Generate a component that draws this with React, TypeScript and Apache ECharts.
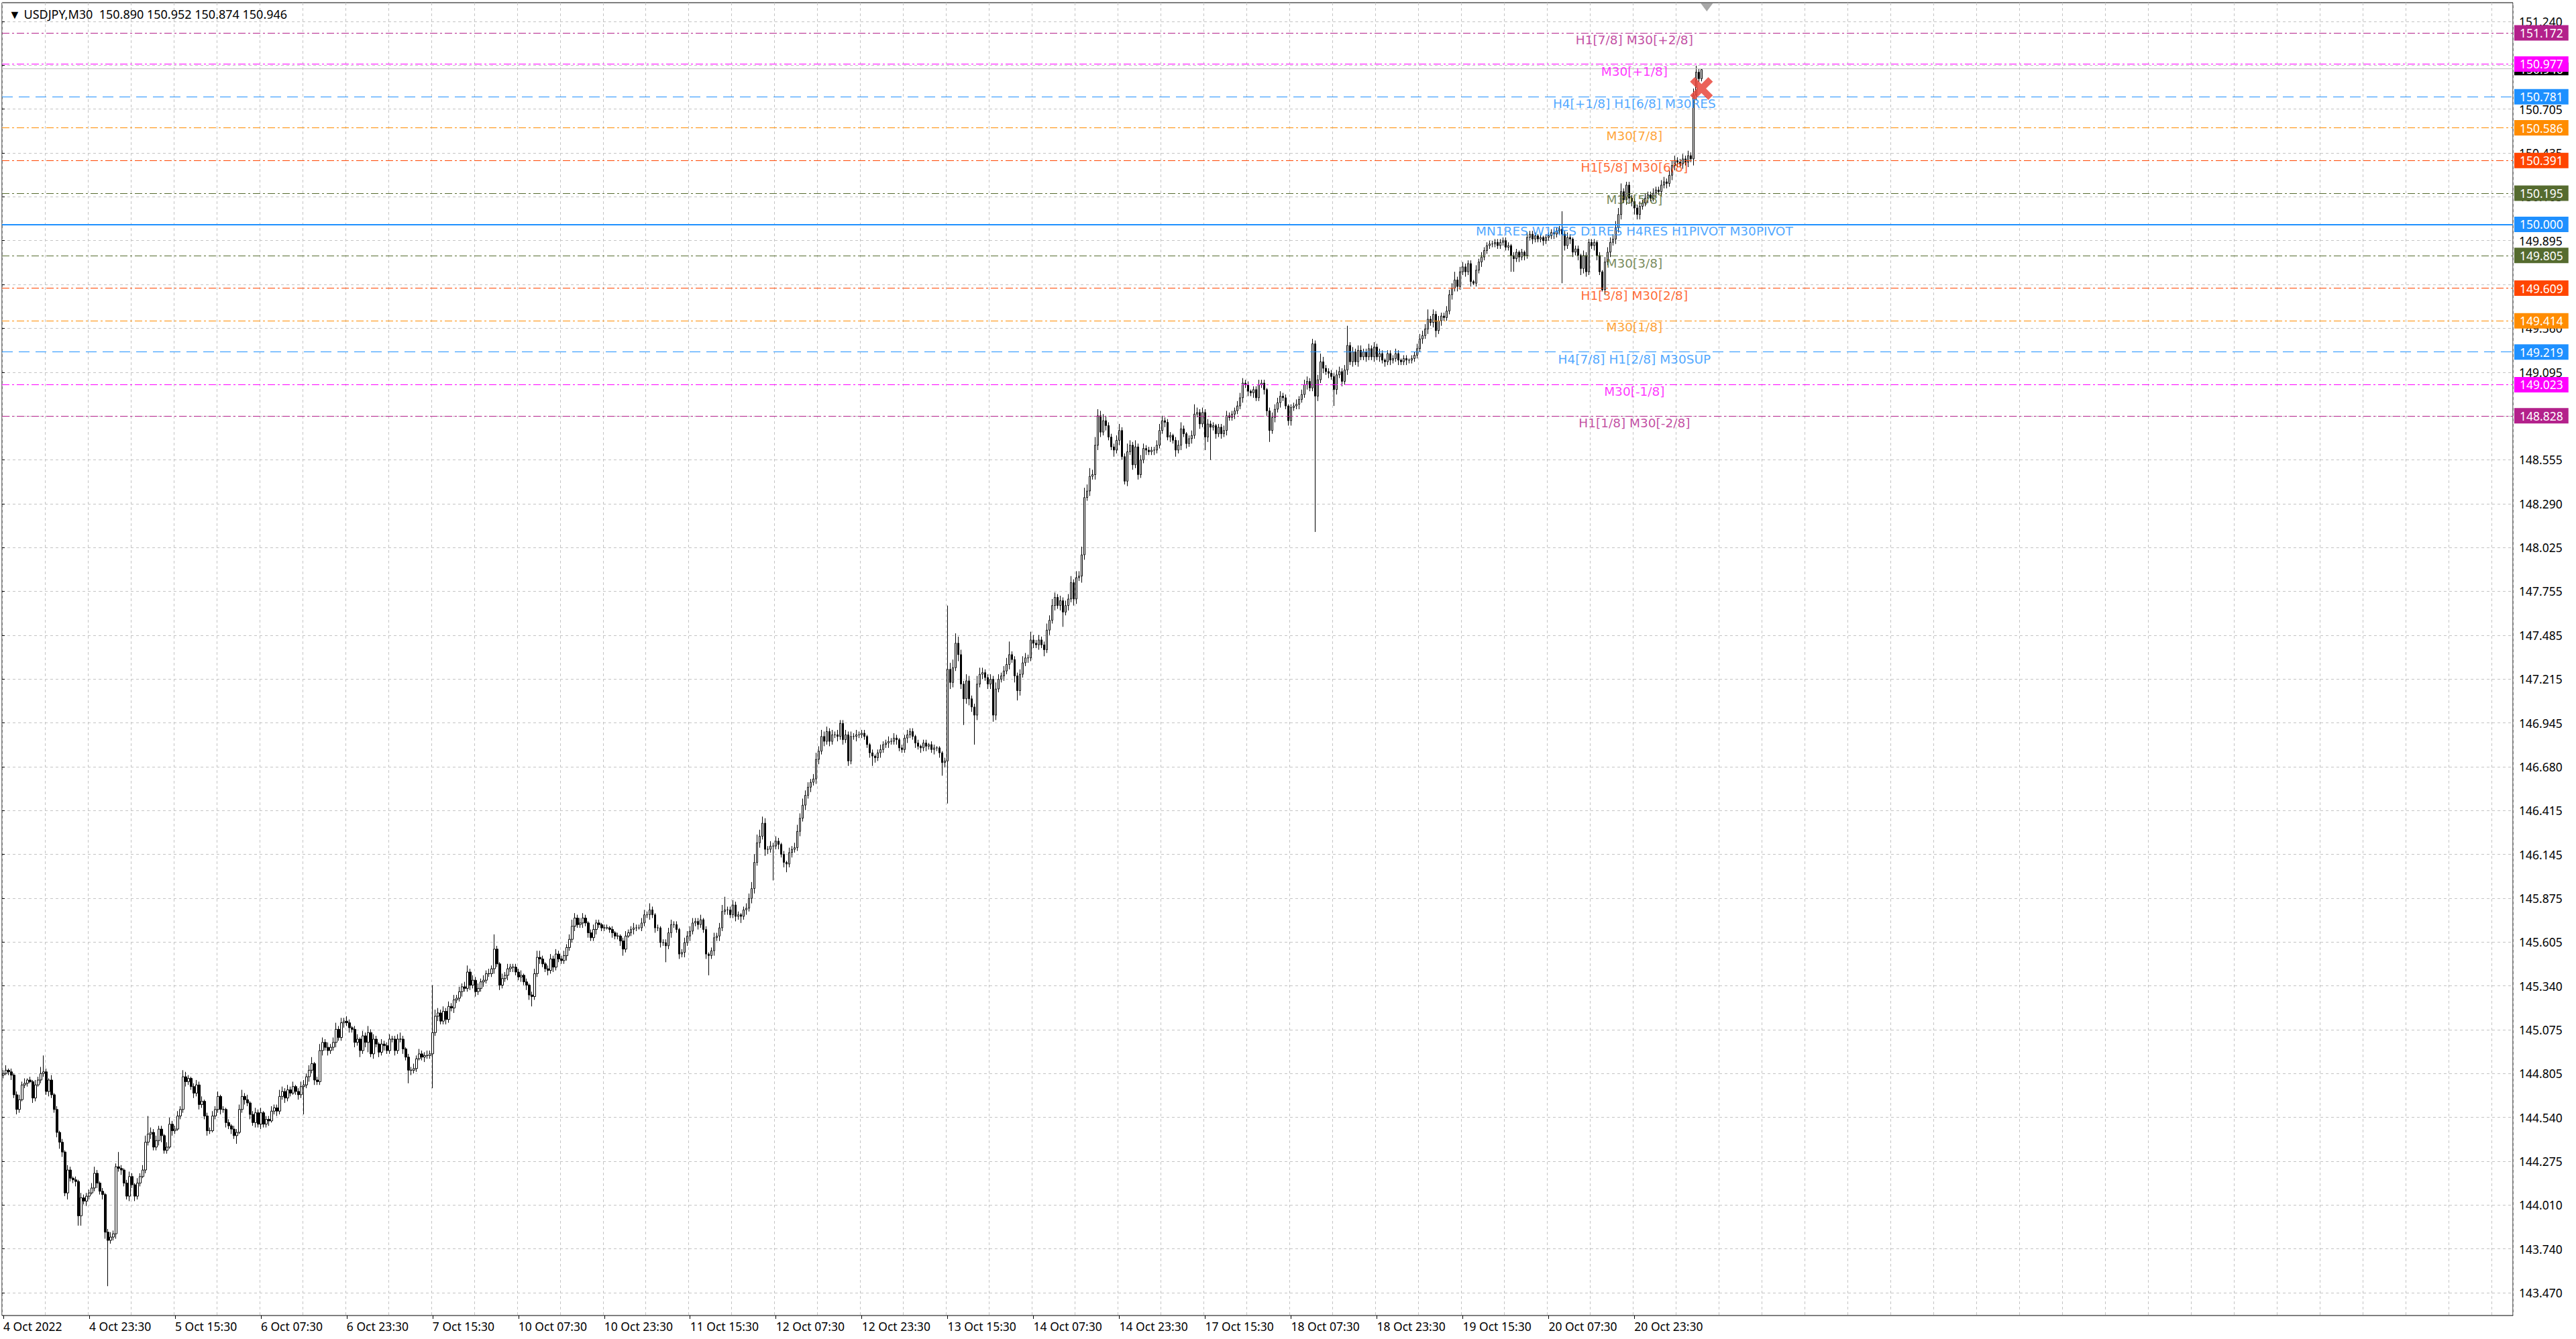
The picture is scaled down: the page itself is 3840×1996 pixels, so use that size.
import React, { useEffect, useRef } from 'react';
import * as echarts from 'echarts';

// bottom axis labels, one every 32 bars (M30)
const xTickLabels = [
  '4 Oct 2022', '4 Oct 23:30', '5 Oct 15:30', '6 Oct 07:30', '6 Oct 23:30', '7 Oct 15:30',
  '10 Oct 07:30', '10 Oct 23:30', '11 Oct 15:30', '12 Oct 07:30', '12 Oct 23:30', '13 Oct 15:30',
  '14 Oct 07:30', '14 Oct 23:30', '17 Oct 15:30', '18 Oct 07:30', '18 Oct 23:30', '19 Oct 15:30',
  '20 Oct 07:30', '20 Oct 23:30',
];

// price scale labels, bottom to top
const yTickLabels = [
  '143.470', '143.740', '144.010', '144.275', '144.540', '144.805', '145.075', '145.340',
  '145.605', '145.875', '146.145', '146.415', '146.680', '146.945', '147.215', '147.485',
  '147.755', '148.025', '148.290', '148.555', '148.825', '149.095', '149.360', '149.630',
  '149.895', '150.165', '150.435', '150.705', '150.975', '151.240',
];

const firstOpen = 144.80;

// close of every M30 bar (16 bars per row)
const closes = [
  144.81, 144.83, 144.82, 144.80, 144.68, 144.59, 144.65, 144.74, 144.75, 144.77, 144.76, 144.66, 144.74, 144.77, 144.81, 144.82,
  144.70, 144.77, 144.68, 144.59, 144.45, 144.39, 144.33, 144.08, 144.22, 144.17, 144.16, 144.15, 143.94, 144.05, 144.03, 144.06,
  144.08, 144.11, 144.20, 144.14, 144.09, 144.07, 143.84, 143.79, 143.81, 143.83, 144.24, 144.23, 144.22, 144.14, 144.06, 144.18,
  144.13, 144.06, 144.14, 144.18, 144.22, 144.39, 144.44, 144.45, 144.36, 144.40, 144.47, 144.43, 144.34, 144.36, 144.50, 144.46,
  144.47, 144.55, 144.59, 144.79, 144.76, 144.78, 144.73, 144.69, 144.74, 144.62, 144.64, 144.55, 144.46, 144.46, 144.55, 144.59,
  144.67, 144.59, 144.59, 144.51, 144.49, 144.47, 144.43, 144.45, 144.59, 144.67, 144.65, 144.63, 144.56, 144.51, 144.57, 144.50,
  144.57, 144.50, 144.53, 144.52, 144.58, 144.60, 144.58, 144.67, 144.70, 144.66, 144.71, 144.69, 144.73, 144.70, 144.68, 144.73,
  144.74, 144.79, 144.83, 144.87, 144.77, 144.76, 144.95, 145.00, 144.97, 144.95, 144.97, 145.00, 145.08, 145.03, 145.12, 145.13,
  145.12, 145.09, 145.08, 145.00, 145.02, 144.95, 145.04, 145.00, 145.06, 144.93, 145.02, 144.99, 144.94, 144.99, 144.98, 144.95,
  145.02, 145.02, 144.95, 145.02, 145.02, 144.96, 144.91, 144.83, 144.83, 144.84, 144.90, 144.93, 144.91, 144.92, 144.92, 144.93,
  145.06, 145.16, 145.18, 145.13, 145.19, 145.14, 145.22, 145.21, 145.26, 145.27, 145.31, 145.34, 145.33, 145.43, 145.35, 145.38,
  145.31, 145.33, 145.37, 145.38, 145.42, 145.42, 145.45, 145.57, 145.48, 145.35, 145.39, 145.41, 145.45, 145.46, 145.46, 145.43,
  145.40, 145.41, 145.37, 145.35, 145.29, 145.28, 145.42, 145.52, 145.51, 145.48, 145.45, 145.44, 145.51, 145.46, 145.54, 145.51,
  145.50, 145.53, 145.58, 145.63, 145.71, 145.76, 145.72, 145.73, 145.76, 145.73, 145.67, 145.64, 145.69, 145.73, 145.72, 145.70,
  145.70, 145.70, 145.69, 145.67, 145.65, 145.65, 145.62, 145.57, 145.65, 145.67, 145.69, 145.70, 145.70, 145.70, 145.73, 145.78,
  145.78, 145.81, 145.78, 145.70, 145.70, 145.61, 145.61, 145.59, 145.67, 145.72, 145.72, 145.69, 145.54, 145.55, 145.61, 145.65,
  145.68, 145.73, 145.74, 145.72, 145.75, 145.69, 145.54, 145.53, 145.56, 145.64, 145.65, 145.70, 145.80, 145.81, 145.81, 145.78,
  145.84, 145.77, 145.78, 145.77, 145.81, 145.82, 145.88, 145.94, 146.10, 146.22, 146.26, 146.34, 146.18, 146.18, 146.20, 146.20,
  146.23, 146.21, 146.15, 146.10, 146.09, 146.16, 146.18, 146.19, 146.29, 146.37, 146.45, 146.51, 146.56, 146.59, 146.61, 146.73,
  146.78, 146.87, 146.84, 146.90, 146.84, 146.88, 146.88, 146.87, 146.95, 146.85, 146.88, 146.72, 146.87, 146.87, 146.88, 146.88,
  146.89, 146.87, 146.82, 146.77, 146.75, 146.74, 146.77, 146.79, 146.82, 146.83, 146.84, 146.84, 146.86, 146.85, 146.80, 146.79,
  146.86, 146.88, 146.90, 146.87, 146.83, 146.81, 146.80, 146.83, 146.81, 146.82, 146.79, 146.80, 146.80, 146.77, 146.71, 146.72,
  147.28, 147.20, 147.29, 147.44, 147.37, 147.19, 147.10, 147.21, 147.10, 147.05, 147.00, 147.19, 147.25, 147.26, 147.23, 147.19,
  147.22, 147.00, 147.16, 147.22, 147.24, 147.27, 147.31, 147.37, 147.34, 147.24, 147.15, 147.25, 147.32, 147.35, 147.35, 147.46,
  147.44, 147.43, 147.46, 147.43, 147.40, 147.52, 147.58, 147.67, 147.72, 147.67, 147.70, 147.63, 147.67, 147.71, 147.81, 147.71,
  147.84, 147.85, 147.98, 148.33, 148.37, 148.46, 148.47, 148.65, 148.83, 148.73, 148.80, 148.77, 148.70, 148.64, 148.62, 148.68,
  148.74, 148.58, 148.43, 148.61, 148.65, 148.53, 148.64, 148.47, 148.56, 148.63, 148.62, 148.61, 148.62, 148.62, 148.65, 148.74,
  148.80, 148.79, 148.70, 148.71, 148.68, 148.62, 148.65, 148.75, 148.72, 148.66, 148.69, 148.71, 148.84, 148.85, 148.78, 148.85,
  148.70, 148.78, 148.76, 148.77, 148.72, 148.76, 148.72, 148.74, 148.83, 148.82, 148.84, 148.86, 148.89, 148.94, 149.03, 149.02,
  148.98, 148.97, 148.99, 148.94, 149.02, 149.03, 148.99, 148.86, 148.74, 148.82, 148.87, 148.91, 148.95, 148.94, 148.89, 148.80,
  148.88, 148.89, 148.90, 148.93, 148.96, 149.02, 149.04, 149.00, 149.27, 148.95, 149.05, 149.16, 149.12, 149.10, 149.09, 149.07,
  148.99, 149.08, 149.10, 149.04, 149.11, 149.26, 149.16, 149.22, 149.16, 149.23, 149.19, 149.22, 149.19, 149.24, 149.19, 149.25,
  149.19, 149.21, 149.17, 149.16, 149.21, 149.17, 149.18, 149.21, 149.17, 149.16, 149.18, 149.17, 149.17, 149.18, 149.20, 149.24,
  149.30, 149.32, 149.36, 149.42, 149.40, 149.45, 149.35, 149.41, 149.44, 149.43, 149.47, 149.57, 149.61, 149.66, 149.62, 149.71,
  149.74, 149.71, 149.76, 149.65, 149.64, 149.72, 149.77, 149.80, 149.84, 149.87, 149.88, 149.88, 149.89, 149.87, 149.89, 149.90,
  149.86, 149.87, 149.81, 149.79, 149.83, 149.80, 149.83, 149.81, 149.92, 149.94, 149.91, 149.93, 149.91, 149.92, 149.90, 149.92,
  149.93, 149.95, 149.94, 149.96, 149.97, 149.94, 149.87, 149.92, 149.91, 149.83, 149.85, 149.81, 149.73, 149.81, 149.71, 149.89,
  149.87, 149.89, 149.81, 149.71, 149.60, 149.77, 149.83, 149.89, 149.91, 149.98, 150.06, 150.20, 150.15, 150.24, 150.16, 150.14,
  150.10, 150.06, 150.11, 150.13, 150.16, 150.18, 150.16, 150.19, 150.21, 150.20, 150.24, 150.26, 150.25, 150.30, 150.36, 150.39,
  150.38, 150.37, 150.40, 150.38, 150.42, 150.40, 150.79, 150.93, 150.89, 150.946,
];

// wick above the body, in 0.01 yen
const upperWicks = [
  2, 3, 1, 2, 1, 2, 3, 2, 3, 1, 2, 1, 3, 2, 4, 10,
  2, 1, 3, 1, 2, 1, 2, 1, 3, 2, 1, 2, 1, 3, 2, 2,
  2, 3, 4, 2, 1, 2, 1, 2, 3, 2, 2, 9, 2, 1, 2, 3,
  2, 1, 3, 2, 3, 4, 11, 3, 2, 3, 2, 2, 1, 3, 4, 2,
  2, 3, 2, 4, 3, 2, 1, 2, 3, 2, 3, 1, 2, 2, 3, 2,
  3, 1, 2, 1, 2, 1, 2, 2, 3, 4, 2, 3, 1, 2, 3, 2,
  3, 1, 2, 2, 3, 2, 2, 4, 3, 2, 3, 2, 3, 1, 2, 3,
  3, 2, 3, 4, 1, 2, 4, 3, 2, 3, 2, 3, 4, 2, 3, 2,
  3, 2, 1, 2, 3, 1, 3, 2, 4, 2, 3, 2, 1, 3, 2, 2,
  3, 2, 2, 3, 4, 2, 1, 2, 2, 3, 2, 3, 2, 2, 3, 2,
  29, 4, 3, 2, 3, 2, 3, 2, 3, 2, 3, 2, 3, 4, 2, 3,
  2, 3, 2, 3, 2, 3, 2, 9, 2, 1, 3, 2, 3, 2, 2, 2,
  2, 3, 1, 2, 1, 2, 3, 4, 4, 2, 1, 2, 3, 2, 3, 2,
  2, 3, 2, 3, 4, 3, 2, 3, 3, 2, 1, 2, 3, 2, 2, 1,
  2, 2, 1, 2, 1, 2, 1, 2, 3, 2, 2, 3, 2, 2, 3, 3,
  2, 4, 2, 1, 2, 1, 2, 2, 3, 3, 2, 2, 1, 2, 3, 3,
  3, 3, 2, 2, 3, 1, 2, 1, 2, 3, 2, 3, 4, 8, 2, 2,
  3, 2, 2, 1, 2, 3, 3, 4, 5, 5, 4, 4, 3, 2, 3, 2,
  3, 2, 1, 2, 1, 3, 2, 3, 4, 3, 4, 3, 3, 2, 3, 4,
  3, 4, 3, 3, 2, 3, 2, 3, 2, 2, 3, 2, 3, 2, 3, 2,
  2, 2, 1, 1, 2, 1, 2, 3, 2, 2, 3, 2, 3, 2, 1, 2,
  2, 3, 2, 2, 1, 2, 1, 2, 2, 1, 2, 2, 1, 1, 1, 2,
  39, 4, 5, 6, 4, 3, 2, 4, 3, 2, 2, 5, 4, 3, 2, 2,
  3, 2, 4, 3, 2, 3, 4, 8, 2, 2, 2, 3, 4, 3, 2, 5,
  3, 2, 3, 2, 2, 4, 3, 4, 3, 2, 3, 2, 3, 3, 4, 2,
  4, 3, 5, 6, 4, 5, 3, 5, 4, 3, 4, 3, 2, 2, 2, 3,
  4, 2, 2, 5, 3, 2, 4, 2, 3, 3, 2, 2, 2, 2, 3, 4,
  3, 2, 2, 2, 1, 2, 3, 4, 2, 1, 2, 3, 6, 3, 2, 3,
  2, 3, 2, 2, 1, 2, 2, 3, 3, 2, 2, 2, 3, 3, 3, 2,
  2, 1, 2, 2, 3, 2, 2, 1, 2, 3, 3, 3, 3, 2, 2, 1,
  2, 2, 3, 2, 3, 3, 3, 2, 3, 2, 3, 5, 3, 2, 2, 2,
  2, 3, 3, 2, 3, 12, 2, 3, 2, 3, 3, 2, 2, 3, 2, 3,
  2, 3, 2, 1, 2, 2, 2, 3, 2, 1, 2, 2, 1, 2, 2, 3,
  3, 3, 3, 6, 2, 3, 2, 3, 2, 2, 3, 3, 3, 5, 2, 3,
  3, 2, 2, 2, 1, 3, 2, 3, 2, 2, 2, 2, 2, 2, 2, 2,
  2, 2, 1, 2, 2, 1, 2, 1, 3, 2, 2, 2, 1, 2, 1, 2,
  2, 2, 2, 2, 2, 11, 2, 3, 2, 1, 2, 2, 1, 3, 2, 2,
  2, 2, 1, 2, 1, 3, 3, 3, 3, 4, 4, 5, 2, 2, 2, 2,
  2, 2, 3, 2, 3, 2, 2, 3, 2, 2, 3, 3, 2, 3, 3, 3,
  2, 2, 3, 2, 3, 2, 4, 4, 2, 0.6,
];

// wick below the body, in 0.01 yen
const lowerWicks = [
  2, 1, 2, 3, 2, 3, 2, 1, 2, 2, 1, 3, 2, 1, 2, 2,
  2, 3, 2, 2, 3, 4, 3, 2, 4, 2, 2, 3, 6, 6, 2, 3,
  2, 1, 2, 3, 2, 3, 4, 28, 2, 2, 3, 2, 3, 2, 2, 3,
  2, 3, 2, 2, 1, 2, 2, 3, 2, 2, 3, 4, 2, 2, 1, 3,
  2, 1, 2, 2, 3, 2, 2, 3, 2, 3, 2, 2, 3, 2, 1, 2,
  2, 3, 2, 3, 2, 3, 2, 5, 1, 2, 3, 2, 3, 2, 3, 2,
  3, 2, 2, 3, 1, 2, 3, 2, 2, 3, 2, 2, 1, 2, 3, 2,
  17, 2, 3, 2, 3, 2, 2, 3, 2, 3, 2, 2, 3, 2, 2, 3,
  2, 3, 2, 3, 2, 4, 2, 3, 6, 2, 3, 2, 3, 2, 3, 2,
  2, 2, 3, 2, 2, 3, 2, 8, 3, 2, 2, 1, 2, 3, 2, 2,
  21, 2, 3, 2, 2, 3, 2, 2, 3, 2, 2, 3, 2, 2, 3, 2,
  3, 2, 2, 3, 2, 2, 2, 3, 2, 3, 2, 2, 3, 2, 3, 2,
  2, 3, 2, 3, 3, 6, 2, 2, 3, 2, 2, 3, 2, 3, 2, 2,
  2, 2, 3, 2, 2, 3, 2, 2, 3, 2, 3, 2, 2, 3, 2, 2,
  2, 1, 2, 3, 2, 2, 3, 4, 2, 1, 2, 3, 2, 1, 2, 2,
  2, 3, 2, 3, 2, 3, 2, 10, 2, 3, 2, 2, 3, 2, 3, 2,
  3, 2, 2, 3, 2, 2, 3, 12, 2, 3, 2, 3, 2, 2, 3, 2,
  2, 3, 2, 4, 2, 3, 2, 3, 3, 2, 3, 2, 4, 3, 2, 21,
  2, 3, 2, 3, 5, 2, 3, 2, 2, 3, 2, 3, 2, 3, 2, 3,
  3, 2, 3, 2, 3, 2, 2, 3, 2, 3, 2, 3, 2, 2, 3, 2,
  2, 2, 2, 3, 6, 3, 2, 3, 2, 2, 3, 2, 2, 3, 2, 2,
  2, 3, 2, 2, 3, 2, 3, 2, 3, 2, 2, 3, 2, 3, 8, 3,
  26, 4, 3, 2, 4, 3, 16, 3, 4, 3, 18, 3, 2, 3, 2, 3,
  3, 4, 3, 2, 2, 3, 2, 3, 2, 4, 6, 3, 2, 2, 3, 2,
  3, 2, 3, 2, 4, 2, 3, 2, 3, 2, 3, 9, 2, 3, 2, 4,
  3, 2, 4, 3, 2, 3, 2, 3, 3, 3, 2, 3, 2, 2, 4, 2,
  3, 2, 2, 3, 2, 3, 2, 3, 2, 2, 3, 2, 2, 3, 2, 2,
  2, 3, 2, 3, 2, 4, 2, 3, 2, 3, 2, 3, 2, 2, 3, 2,
  8, 3, 20, 2, 3, 2, 3, 2, 3, 2, 2, 3, 2, 2, 3, 2,
  3, 2, 3, 2, 2, 2, 3, 3, 7, 2, 3, 2, 3, 2, 2, 3,
  3, 2, 2, 3, 2, 2, 3, 2, 2, 83, 3, 2, 3, 2, 3, 2,
  10, 3, 2, 3, 2, 3, 2, 3, 2, 3, 2, 2, 3, 2, 2, 3,
  2, 3, 2, 3, 2, 3, 2, 2, 3, 2, 2, 3, 2, 2, 2, 2,
  2, 3, 2, 3, 2, 3, 4, 2, 3, 2, 2, 2, 3, 2, 3, 2,
  2, 3, 2, 3, 1, 2, 2, 3, 2, 2, 2, 2, 2, 2, 2, 2,
  2, 2, 10, 8, 2, 3, 2, 3, 2, 2, 3, 2, 2, 2, 3, 2,
  2, 2, 3, 2, 2, 30, 3, 2, 3, 3, 2, 3, 4, 3, 3, 2,
  2, 3, 3, 2, 1, 3, 2, 3, 2, 3, 3, 3, 2, 3, 3, 3,
  4, 3, 3, 2, 2, 3, 2, 2, 3, 2, 3, 2, 3, 2, 3, 3,
  3, 2, 3, 2, 3, 2, 4, 3, 2, 1.6,
];

// murrey math levels drawn by the indicator
const levelPrices = [151.172, 150.977, 150.781, 150.586, 150.391, 150.195, 150.0, 149.805, 149.609, 149.414, 149.219, 149.023, 148.828];
const levelNames = [
  'H1[7/8] M30[+2/8]', 'M30[+1/8]', 'H4[+1/8] H1[6/8] M30RES', 'M30[7/8]', 'H1[5/8] M30[6/8]', 'M30[5/8]',
  'MN1RES W1RES D1RES H4RES H1PIVOT M30PIVOT', 'M30[3/8]', 'H1[3/8] M30[2/8]', 'M30[1/8]',
  'H4[7/8] H1[2/8] M30SUP', 'M30[-1/8]', 'H1[1/8] M30[-2/8]',
];
const levelColors = ['#b3218b', '#ff00ff', '#1e90ff', '#ff8c00', '#ff4500', '#556b2f', '#1e90ff', '#556b2f', '#ff4500', '#ff8c00', '#1e90ff', '#ff00ff', '#b3218b'];
const levelKinds = ['dashdot', 'dashdot', 'dash', 'dashdot', 'dashdot', 'dashdot', 'solid', 'dashdot', 'dashdot', 'dashdot', 'dash', 'dashdot', 'dashdot'];
const levelLabelBar = 608;

const crossMarkBar = 633;
const crossMarkPrice = 150.83;

const barCount = 936; // visible slots incl. the empty right side
const yMin = 143.3306;
const yMax = 151.3548;

const candles = closes.map((c, i) => {
  const o = i === 0 ? firstOpen : closes[i - 1];
  const h = Math.max(o, c) + upperWicks[i] / 100;
  const l = Math.min(o, c) - lowerWicks[i] / 100;
  return [o, c, l, h];
});

const categories = Array.from({ length: barCount }, (_, i) => String(i));

export default function App() {
  const chartRef = useRef<HTMLDivElement>(null);

  useEffect(() => {
    if (!chartRef.current) return;
    document.body.style.margin = '0';
    document.body.style.overflow = 'hidden';

    const chart = echarts.init(chartRef.current, null, { renderer: 'svg' });

    const last = candles[candles.length - 1];
    const bid = last[1];
    const head = [last[0], last[3], last[2], last[1]].map((v) => v.toFixed(3)).join(' ');

    const dashFor = (kind: string) => (kind === 'dash' ? [16, 9] : kind === 'solid' ? 'solid' : [11, 4, 3, 4]);
    const labelTick = (i: number) => i % 32 === 0 && i / 32 < xTickLabels.length;

    const option = {
      animation: false,
      backgroundColor: '#ffffff',
      title: {
        text: '▼ USDJPY,M30  ' + head,
        left: 8,
        top: 7,
        textStyle: { fontSize: 18, fontWeight: 'normal', color: '#000', fontFamily: 'Noto Sans' },
      },
      grid: [
        { left: 3, right: 94, top: 4, bottom: 35, show: true, borderColor: '#000', borderWidth: 1, outerBoundsMode: 'none' },
        { left: 3, right: 94, top: 32, bottom: 69, outerBoundsMode: 'none' },
      ],
      xAxis: [
        {
          type: 'category',
          gridIndex: 0,
          data: categories,
          boundaryGap: true,
          axisLine: { show: false },
          axisTick: { show: true, interval: labelTick, alignWithLabel: true, length: 5, lineStyle: { color: '#000' } },
          axisLabel: {
            interval: labelTick,
            formatter: (_v: string, i: number) => xTickLabels[i / 32] ?? '',
            align: 'left',
            margin: 7,
            fontSize: 17.5,
            fontFamily: 'Noto Sans',
            color: '#000',
          },
          splitLine: { show: true, interval: (i: number) => i % 16 === 0, lineStyle: { color: '#c4c4c4', type: [4, 4] } },
        },
        { type: 'value', gridIndex: 1, show: false, min: 0, max: 1 },
      ],
      yAxis: [
        { type: 'value', gridIndex: 0, min: yMin, max: yMax, show: false, splitLine: { show: false } },
        {
          type: 'value',
          gridIndex: 1,
          position: 'right',
          min: 0,
          max: yTickLabels.length - 1,
          interval: 1,
          axisLine: { show: false },
          axisTick: { show: true, length: 4, lineStyle: { color: '#000' } },
          axisLabel: {
            margin: 9,
            formatter: (v: number) => yTickLabels[Math.round(v)] ?? '',
            color: '#000',
            fontSize: 17.5,
            fontFamily: 'Noto Sans',
          },
          splitLine: { show: true, lineStyle: { color: '#c4c4c4', type: [4, 4] } },
        },
      ],
      series: [
        {
          type: 'candlestick',
          xAxisIndex: 0,
          yAxisIndex: 0,
          data: candles,
          large: false,
          progressive: 0,
          barWidth: 3,
          z: 3,
          itemStyle: { color: '#ffffff', color0: '#000000', borderColor: '#000000', borderColor0: '#000000', borderWidth: 1 },
          markLine: {
            silent: true,
            symbol: ['none', 'none'],
            label: {
              show: true,
              position: 'end',
              distance: 2,
              color: '#fff',
              padding: [3, 8, 2, 8],
              fontSize: 17.5,
              fontFamily: 'Noto Sans',
            },
            data: [
              {
                yAxis: bid,
                lineStyle: { color: '#c0c0c0', type: 'solid', width: 1 },
                label: { backgroundColor: '#000', formatter: bid.toFixed(3), padding: [1, 8, 0, 8] },
              },
              ...levelPrices.map((p, i) => ({
                yAxis: p,
                lineStyle: { color: levelColors[i], type: dashFor(levelKinds[i]), width: levelKinds[i] === 'solid' ? 2 : 1 },
                label: { backgroundColor: levelColors[i], formatter: p.toFixed(3) },
              })),
            ],
          },
          markPoint: {
            silent: true,
            label: { show: false },
            data: [
              {
                coord: [crossMarkBar, crossMarkPrice],
                symbol: 'path://M0,2L2,0L5,3L8,0L10,2L7,5L10,8L8,10L5,7L2,10L0,8L3,5Z',
                symbolSize: 34,
                itemStyle: { color: '#e8463c', opacity: 0.85 },
              },
              {
                coord: [crossMarkBar + 2, yMax],
                symbol: 'triangle',
                symbolRotate: 180,
                symbolSize: [18, 12],
                symbolOffset: [0, 7],
                itemStyle: { color: '#a8a8a8' },
              },
            ],
          },
        },
        {
          type: 'scatter',
          xAxisIndex: 0,
          yAxisIndex: 0,
          silent: true,
          z: 6,
          symbolSize: 0,
          data: levelPrices.map((p, i) => ({
            value: [levelLabelBar, p],
            name: levelNames[i],
            label: { color: levelColors[i] },
          })),
          label: {
            show: true,
            position: 'bottom',
            distance: 1,
            formatter: '{b}',
            fontSize: 18.5,
            fontFamily: 'DejaVu Sans',
          },
        },
      ],
    };

    chart.setOption(option as any);

    const handleResize = () => chart.resize();
    window.addEventListener('resize', handleResize);
    return () => {
      window.removeEventListener('resize', handleResize);
      chart.dispose();
    };
  }, []);

  return <div ref={chartRef} style={{ width: '100%', height: '1996px' }} />;
}
